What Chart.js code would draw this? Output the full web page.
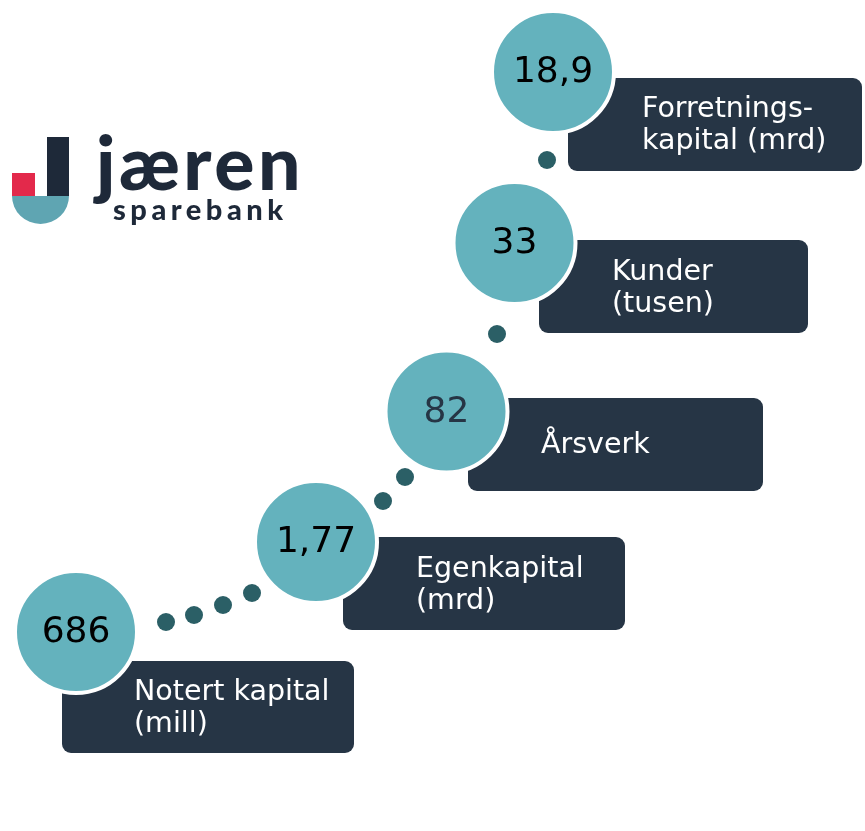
<!DOCTYPE html>
<html>
<head>
<meta charset="utf-8">
<script src="https://cdn.jsdelivr.net/npm/chart.js"></script>
<style>
  html, body { margin: 0; padding: 0; background: #fff; }
  #wrap { width: 865px; height: 831px; position: relative; }
</style>
</head>
<body>
<div id="wrap"><canvas id="nokkeltall"></canvas></div>
<script>
// Nøkkeltall
const verdier = [686, 1.77, 82, 33, 18.9];
const etiketter = [
    ['Notert kapital', '(mill)'],
    ['Egenkapital', '(mrd)'],
    ['Årsverk'],
    ['Kunder', '(tusen)'],
    ['Forretnings-', 'kapital (mrd)']
];

// Plassering (trappetrinn) - layout, ikke data
const trinnX = [76, 316, 446.5, 514.5, 553];
const trinnY = [632, 542, 411.5, 243, 72];
const bokser = [
    [62, 661, 292, 92],
    [343, 537, 282, 93],
    [468, 398, 295, 93],
    [539, 240, 269, 93],
    [568, 78, 294, 93]
];
const tekstPos = [[134, 700], [416, 577], [541, 453], [612, 280], [642, 117]];
const verdiFarge = ['#000', '#000', '#263545', '#000', '#000'];
const prikker = [
    [166, 622], [194, 615], [223, 605], [252, 593],
    [383, 501], [405, 477], [497, 334], [547, 160]
];

function tall(v) {
    return String(v).replace('.', ',');
}

const bokserPlugin = {
    id: 'bokser',
    beforeDatasetsDraw(chart) {
        const ctx = chart.ctx;
        const x = chart.scales.x, y = chart.scales.y;
        ctx.save();
        ctx.fillStyle = '#263545';
        bokser.forEach(b => {
            const x0 = x.getPixelForValue(b[0]);
            const y0 = y.getPixelForValue(b[1]);
            const x1 = x.getPixelForValue(b[0] + b[2]);
            const y1 = y.getPixelForValue(b[1] + b[3]);
            ctx.beginPath();
            ctx.roundRect(x0, y0, x1 - x0, y1 - y0, 9);
            ctx.fill();
        });
        ctx.restore();
    },
    afterDatasetsDraw(chart) {
        const ctx = chart.ctx;
        const x = chart.scales.x, y = chart.scales.y;
        ctx.save();
        // verdier i sirklene
        ctx.font = '36px "DejaVu Sans"';
        ctx.textAlign = 'center';
        ctx.textBaseline = 'middle';
        verdier.forEach((v, i) => {
            ctx.fillStyle = verdiFarge[i];
            ctx.fillText(tall(v), x.getPixelForValue(trinnX[i]), y.getPixelForValue(trinnY[i]) + 1);
        });
        // etiketter
        ctx.font = '28.5px "DejaVu Sans"';
        ctx.textAlign = 'left';
        ctx.textBaseline = 'alphabetic';
        ctx.fillStyle = '#ffffff';
        etiketter.forEach((linjer, i) => {
            linjer.forEach((t, j) => {
                ctx.fillText(t, x.getPixelForValue(tekstPos[i][0]), y.getPixelForValue(tekstPos[i][1]) + j * 32);
            });
        });

        // logo
        ctx.fillStyle = '#e3294b';
        ctx.fillRect(12, 173, 23, 23);
        ctx.fillStyle = '#1e2939';
        ctx.fillRect(47, 137, 22, 59);
        ctx.fillStyle = '#5fa5b2';
        ctx.beginPath();
        ctx.ellipse(40.5, 196, 28.5, 28, 0, 0, Math.PI);
        ctx.fill();
        ctx.fillStyle = '#1e2939';
        ctx.font = '900 75px Lato';
        ctx.letterSpacing = '3.5px';
        ctx.fillText('jæren', 96, 190);
        ctx.font = '900 29px Lato';
        ctx.letterSpacing = '4.5px';
        ctx.fillText('sparebank', 113, 220);
        ctx.restore();
    }
};

const ctx = document.getElementById('nokkeltall').getContext('2d');
new Chart(ctx, {
    type: 'scatter',
    data: {
        datasets: [
            {
                label: 'Prikker',
                data: prikker.map(p => ({ x: p[0], y: p[1] })),
                pointRadius: 9,
                pointBackgroundColor: '#2b5f66',
                pointBorderWidth: 0,
                clip: false
            },
            {
                label: 'Nøkkeltall',
                data: verdier.map((v, i) => ({ x: trinnX[i], y: trinnY[i], v: v })),
                pointRadius: 61,
                pointBackgroundColor: '#64b2bd',
                pointBorderColor: '#ffffff',
                pointBorderWidth: 4,
                clip: false
            }
        ]
    },
    options: {
        responsive: true,
        maintainAspectRatio: false,
        animation: false,
        layout: { padding: 0, autoPadding: false },
        plugins: {
            legend: { display: false },
            tooltip: { enabled: false }
        },
        scales: {
            x: { type: 'linear', min: 0, max: 865, display: false },
            y: { type: 'linear', min: 0, max: 831, reverse: true, display: false }
        }
    },
    plugins: [bokserPlugin]
});
</script>
</body>
</html>
